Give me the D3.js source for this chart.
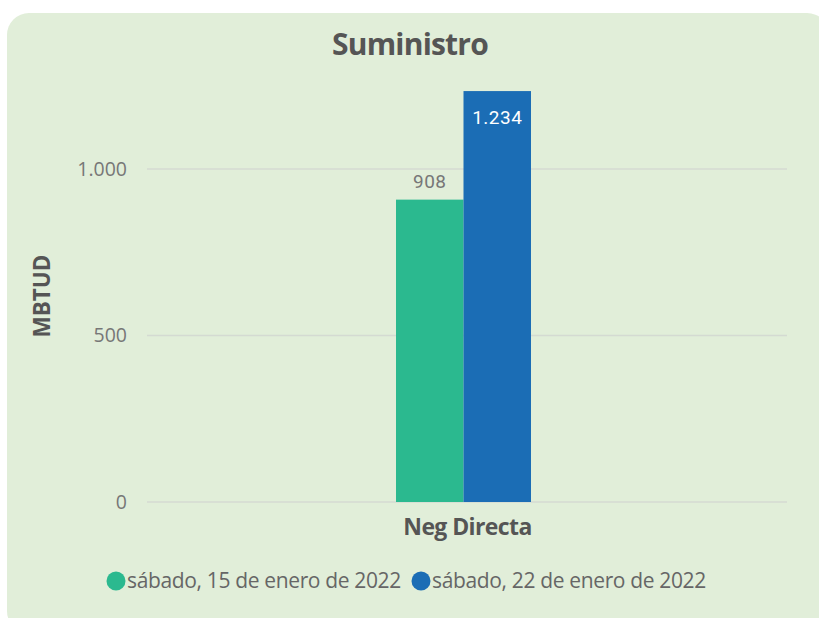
<!DOCTYPE html>
<html><head><meta charset="utf-8">
<script src="https://cdn.jsdelivr.net/npm/d3@7"></script>
<style>html,body{margin:0;padding:0;background:#fff;}svg{display:block;}</style>
</head><body>
<script>
const categories = ["Neg Directa"];
const seriesNames = ["sábado, 15 de enero de 2022", "sábado, 22 de enero de 2022"];
const seriesValues = [[908], [1234]];
const yTicks = [0, 500, 1000];
const colors = ["#2bb98f", "#1b6db5"];

const W = 819, H = 618;
const svg = d3.select("body").append("svg").attr("width", W).attr("height", H);
svg.append("rect").attr("x", 7).attr("y", 13).attr("width", 822).attr("height", 620)
  .attr("rx", 22).attr("fill", "#e1eed9");

const fmt = v => d3.format(",")(v).replace(/,/g, ".");
const x0 = d3.scaleBand().domain(categories).range([140, 787]);
const y = d3.scaleLinear().domain([0, 1000]).range([502, 169]);
const cx = x0(categories[0]) + x0.bandwidth() / 2;
const x1 = d3.scaleBand().domain(d3.range(seriesNames.length)).range([cx - 67.5, cx + 67.5]);

// gridlines
svg.append("g").selectAll("line").data(yTicks).join("line")
  .attr("x1", 147).attr("x2", 787).attr("y1", d => y(d)).attr("y2", d => y(d))
  .attr("stroke", "#d4dad2").attr("stroke-width", 1.5);

// y tick labels
svg.append("g").selectAll("text").data(yTicks).join("text")
  .attr("x", 127).attr("y", d => y(d)).attr("dy", "0.35em").attr("text-anchor", "end")
  .attr("font-family", "'Open Sans', sans-serif").attr("font-size", 19.5).attr("fill", "#777")
  .text(d => fmt(d));

// bars
const data = [];
seriesNames.forEach((s, i) => categories.forEach((c, j) => data.push({i, c, v: seriesValues[i][j]})));
svg.append("g").selectAll("rect").data(data).join("rect")
  .attr("x", d => x1(d.i)).attr("width", x1.bandwidth())
  .attr("y", d => y(d.v)).attr("height", d => y(0) - y(d.v))
  .attr("fill", d => colors[d.i]);

// data labels
svg.append("g").selectAll("text").data(data).join("text")
  .attr("x", d => x1(d.i) + x1.bandwidth() / 2)
  .attr("y", d => d.i === 0 ? y(d.v) - 12 : y(d.v) + 33)
  .attr("text-anchor", "middle")
  .attr("font-family", "Roboto, sans-serif").attr("font-size", 19)
  .attr("letter-spacing", "0.5")
  .attr("fill", d => d.i === 0 ? "#777" : "#fff")
  .text(d => fmt(d.v));

// title
svg.append("text").attr("x", 410).attr("y", 55).attr("text-anchor", "middle")
  .attr("font-family", "'Open Sans', sans-serif").attr("font-weight", "bold").attr("font-size", 30)
  .attr("fill", "#555").attr("letter-spacing", "-0.8").text("Suministro");

// y axis title
svg.append("text").attr("transform", "translate(50,296) rotate(-90)").attr("text-anchor", "middle")
  .attr("font-family", "'Open Sans', sans-serif").attr("font-weight", "bold").attr("font-size", 22.5)
  .attr("fill", "#555").text("MBTUD");

// x category label
svg.append("g").selectAll("text").data(categories).join("text")
  .attr("x", d => x0(d) + x0.bandwidth() / 2 + 4).attr("y", 535).attr("text-anchor", "middle")
  .attr("font-family", "'Open Sans', sans-serif").attr("font-weight", "bold").attr("font-size", 23)
  .attr("fill", "#555").attr("letter-spacing", "-0.6").text(d => d);

// legend
const legX = [116, 421];
const lg = svg.append("g").selectAll("g").data(seriesNames).join("g")
  .attr("transform", (d, i) => `translate(${legX[i]},581)`);
lg.append("circle").attr("r", 9.5).attr("fill", (d, i) => colors[i]);
lg.append("text").attr("x", 11).attr("dy", "0.35em")
  .attr("font-family", "'Open Sans', sans-serif").attr("font-size", 21).attr("fill", "#666")
  .attr("letter-spacing", "-0.35")
  .text(d => d);
</script>
</body></html>
